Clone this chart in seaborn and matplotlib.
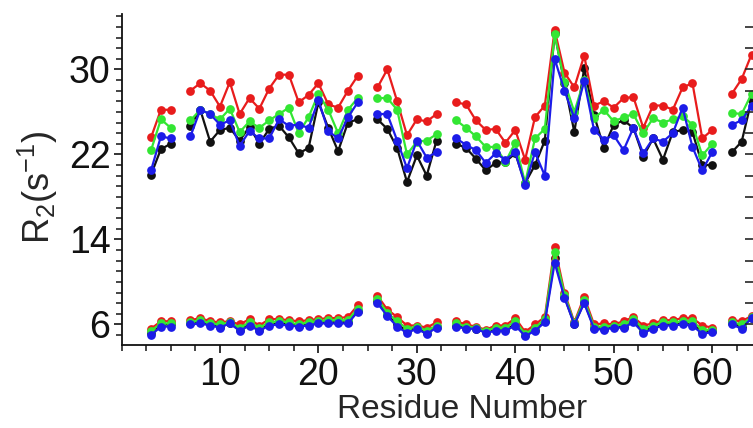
import numpy as np
import pandas as pd
import matplotlib
matplotlib.use('Agg')
import matplotlib.pyplot as plt
from matplotlib.ticker import MultipleLocator
import seaborn as sns

# residues that have data (gaps at 6, 25, 33, 61)
residues = [3, 4, 5, 7, 8, 9, 10, 11, 12, 13, 14, 15, 16, 17, 18, 19, 20, 21, 22, 23, 24,
            26, 27, 28, 29, 30, 31, 32,
            34, 35, 36, 37, 38, 39, 40, 41, 42, 43, 44, 45, 46, 47, 48, 49, 50,
            51, 52, 53, 54, 55, 56, 57, 58, 59, 60, 62, 63, 64]

# upper group of R2 curves
upper_red = [23.6, 26.2, 26.2, 28.0, 28.7, 28.0, 26.5, 28.8, 25.8, 27.3, 26.3, 28.2, 29.5, 29.5,
             26.9, 27.6, 28.7, 26.7, 26.4, 28.0, 29.4,
             28.3, 30.0, 27.0, 23.8, 25.3, 25.1, 25.8,
             26.9, 26.7, 25.2, 24.3, 24.4, 23.1, 24.3, 21.5, 25.5, 26.6, 33.7, 29.7, 28.3, 31.3,
             26.6, 27.0, 26.4, 27.3, 27.4, 24.5, 26.6, 26.6, 26.2, 28.3, 28.7, 23.5, 24.3,
             27.7, 29.1, 31.4]
upper_green = [22.4, 25.3, 24.5, 25.2, 26.2, 25.8, 25.3, 26.3, 24.1, 25.1, 24.5, 25.2, 25.8, 26.4,
               24.0, 25.5, 27.7, 26.2, 24.0, 26.2, 27.3,
               27.3, 27.3, 26.2, 22.0, 23.2, 23.3, 23.9,
               25.2, 24.5, 23.7, 22.7, 22.7, 21.3, 23.1, 19.3, 23.5, 24.4, 33.3, 28.8, 26.0, 29.0,
               25.4, 26.2, 25.1, 25.5, 25.8, 24.0, 25.4, 25.0, 25.3, 25.6, 24.8, 21.9, 23.0,
               25.9, 25.8, 27.7]
upper_blue = [20.5, 23.7, 23.5, 23.7, 26.2, 25.8, 24.8, 25.2, 22.8, 24.2, 23.5, 23.5, 25.3, 24.7,
              24.8, 24.5, 27.1, 24.2, 23.5, 25.5, 26.9,
              25.8, 25.8, 23.3, 20.7, 23.3, 21.7, 22.2,
              23.5, 22.9, 22.4, 21.2, 22.1, 21.5, 22.2, 19.1, 22.2, 20.0, 31.0, 28.0, 25.4, 28.9,
              24.3, 23.4, 23.8, 22.4, 24.5, 22.1, 23.5, 23.2, 24.0, 26.4, 22.7, 20.5, 22.2,
              24.8, 25.2, 26.6]
upper_black = [20.1, 22.5, 23.0, 24.7, 26.2, 23.2, 24.3, 24.5, 23.3, 24.6, 23.0, 24.4, 24.7, 23.6,
               22.1, 22.6, 26.9, 24.5, 22.3, 25.0, 25.3,
               25.3, 24.4, 22.6, 19.4, 21.9, 20.0, 23.3,
               23.0, 22.6, 21.6, 20.5, 21.2, 21.3, 22.1, 19.3, 21.0, 23.3, 33.4, 28.7, 24.1, 30.1,
               25.7, 22.6, 24.8, 25.2, 24.5, 21.8, 23.5, 21.5, 24.1, 24.3, 24.1, 21.0, 21.0,
               22.2, 23.2, 27.1]

# lower group of R2 curves
lower_red = [5.6, 6.3, 6.3, 6.4, 6.6, 6.3, 6.2, 6.3, 6.0, 6.5, 5.9, 6.5, 6.5, 6.4,
             6.3, 6.4, 6.5, 6.6, 6.6, 6.7, 7.8,
             8.7, 7.4, 6.7, 5.9, 5.9, 5.7, 6.2,
             6.3, 6.0, 5.8, 5.5, 5.9, 5.9, 6.6, 5.3, 6.0, 6.7, 13.3, 9.0, 6.2, 8.6,
             6.0, 6.1, 6.0, 6.3, 6.7, 5.9, 6.1, 6.4, 6.4, 6.6, 6.6, 5.9, 5.7,
             6.4, 6.3, 6.8]
lower_green = [5.4, 6.1, 6.1, 6.2, 6.4, 6.1, 6.0, 6.2, 5.7, 6.2, 5.7, 6.2, 6.3, 6.2,
               6.0, 6.2, 6.3, 6.4, 6.4, 6.4, 7.5,
               8.4, 7.1, 6.3, 5.6, 5.8, 5.4, 5.9,
               6.1, 5.8, 5.7, 5.4, 5.7, 5.7, 6.3, 5.1, 5.7, 6.5, 12.8, 8.8, 6.1, 8.3,
               5.8, 5.8, 5.9, 6.0, 6.5, 5.6, 5.9, 6.2, 6.2, 6.3, 6.3, 5.5, 5.5,
               6.2, 6.0, 6.7]
lower_blue = [5.0, 5.8, 5.8, 6.0, 6.1, 5.9, 5.7, 6.1, 5.4, 5.9, 5.4, 5.9, 6.0, 5.9,
              5.8, 5.9, 6.1, 6.1, 6.1, 6.1, 7.2,
              8.0, 6.8, 5.8, 5.2, 5.6, 5.1, 5.7,
              5.8, 5.6, 5.6, 5.2, 5.4, 5.4, 5.9, 4.9, 5.4, 6.2, 11.8, 8.5, 6.0, 8.0,
              5.6, 5.5, 5.7, 5.7, 6.2, 5.2, 5.6, 5.9, 5.9, 6.0, 5.9, 5.1, 5.3,
              6.0, 5.6, 6.6]
lower_black = [5.2, 6.0, 6.0, 6.1, 6.2, 6.0, 5.8, 6.1, 5.5, 6.0, 5.5, 6.0, 6.1, 6.0,
               5.9, 6.0, 6.2, 6.2, 6.2, 6.2, 7.3,
               8.2, 6.9, 6.0, 5.4, 5.7, 5.2, 5.8,
               5.9, 5.7, 5.6, 5.3, 5.5, 5.5, 6.0, 5.0, 5.5, 6.3, 12.3, 8.6, 6.0, 8.1,
               5.7, 5.6, 5.8, 5.8, 6.3, 5.4, 5.7, 6.0, 6.0, 6.1, 6.0, 5.3, 5.4,
               6.1, 5.8, 6.6]

series_order = ['black', 'red', 'green', 'blue']
palette = {'black': '#111111', 'red': '#e81c1c', 'green': '#33e633', 'blue': '#1c1ce8'}
xticks = [10, 20, 30, 40, 50, 60]
yticks = [6, 14, 22, 30]

# break lines where residues are missing
chunk = np.cumsum(np.diff(residues, prepend=residues[0]) > 1)

groups = {
    'upper': {'black': upper_black, 'red': upper_red, 'green': upper_green, 'blue': upper_blue},
    'lower': {'black': lower_black, 'red': lower_red, 'green': lower_green, 'blue': lower_blue},
}
frames = []
for level, curves in groups.items():
    for name, vals in curves.items():
        frames.append(pd.DataFrame({'residue': residues, 'r2': vals, 'series': name,
                                    'unit': [f'{level}{c}' for c in chunk]}))
df = pd.concat(frames, ignore_index=True)

sns.set_style('ticks')
plt.rcParams['font.family'] = ['Liberation Sans', 'DejaVu Sans']
plt.rcParams['mathtext.fontset'] = 'custom'
plt.rcParams['mathtext.rm'] = 'Liberation Sans'
plt.rcParams['mathtext.it'] = 'Liberation Sans'

fig = plt.figure(figsize=(7.53, 4.28), dpi=100)
ax = fig.add_axes([0.1614, 0.194, 0.8386, 0.773])

sns.lineplot(data=df, x='residue', y='r2', hue='series', hue_order=series_order,
             palette=palette, units='unit', estimator=None, marker='o',
             markersize=6.3, markeredgewidth=0, linewidth=1.6, legend=False, ax=ax)

ax.set_xlim(0, 64.15)
ax.set_ylim(4.07, 35.2)
ax.set_xticks(xticks)
ax.set_yticks(yticks)
ax.xaxis.set_minor_locator(MultipleLocator(2.5))
ax.yaxis.set_minor_locator(MultipleLocator(1))
ax.tick_params(which='major', length=6, width=1.2, labelsize=27, colors='#111111')
ax.tick_params(which='minor', length=4.5, width=1.2)
ax.tick_params(axis='y', pad=2)
ax.tick_params(axis='x', pad=3)
for side in ['top', 'right']:
    ax.spines[side].set_visible(False)
for side in ['left', 'bottom']:
    ax.spines[side].set_linewidth(1.3)
    ax.spines[side].set_color('#111111')

ax.set_xlabel('Residue Number', fontsize=24)
ax.set_ylabel(r'R$_2$(s$^{-1}$)', fontsize=26)
ax.xaxis.set_label_coords(0.539, -0.148)
ax.yaxis.set_label_coords(-0.098, 0.477)

# ticks of the neighbouring axis at the right edge
ax2 = ax.twinx()
ax2.set_ylim(ax.get_ylim())
ax2.yaxis.set_major_locator(MultipleLocator(2))
ax2.tick_params(axis='y', direction='in', length=6, width=1.2, labelright=False)
for side in ax2.spines:
    ax2.spines[side].set_visible(False)

plt.savefig('out.png', dpi=100)
